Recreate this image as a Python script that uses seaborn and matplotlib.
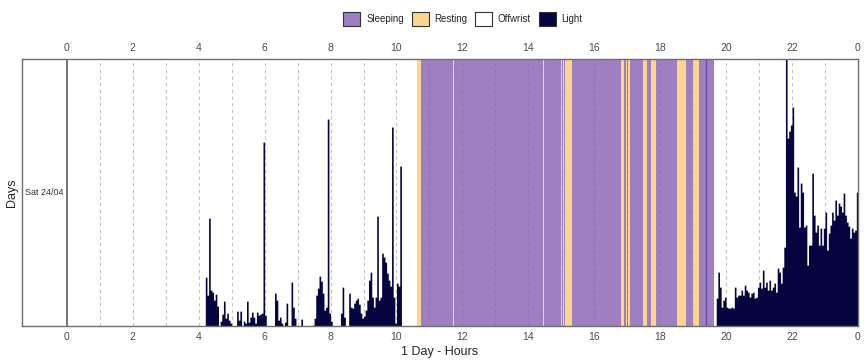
import numpy as np
import pandas as pd
import matplotlib
matplotlib.use("Agg")
import matplotlib.pyplot as plt
from matplotlib.patches import Patch
import seaborn as sns

# light epochs, 3 minutes each (0.05 h)
epoch_h = 0.05
morning_start = 4.20
morning_light = [
    49, 31, 108, 36, 34, 26, 32, 20, 0, 5, 12, 25, 8, 13, 6, 3,
    0, 0, 0, 15, 6, 15, 0, 5, 3, 25, 4, 9, 14, 9, 3, 14, 11, 12, 13, 184,
    11, 0, 0, 0, 0, 0, 33, 26, 6, 9, 3, 0, 4, 23, 0, 0, 44, 19, 8, 0,
    0, 0, 7, 0, 0, 0, 0, 0, 0, 1, 8, 31, 38, 50, 45, 33, 16, 19, 207, 13,
    5, 0, 0, 0, 0, 0, 13, 39, 9, 0, 0, 33, 19, 18, 23, 26, 28, 22, 13, 8,
    10, 16, 26, 46, 54, 29, 19, 29, 110, 26, 29, 73, 69, 64, 53, 46, 40, 199, 29, 3,
    43, 40, 160,
]
evening_start = 19.70
evening_light = [
    28, 54, 39, 19, 26, 29,
    19, 18, 18, 19, 18, 39, 29, 31, 31, 36, 31, 41, 36, 34, 29, 33, 34, 28, 29, 39,
    44, 38, 56, 39, 44, 36, 46, 36, 39, 43, 34, 58, 54, 43, 59, 79, 275, 188, 195, 201,
    219, 134, 130, 159, 99, 143, 134, 99, 101, 61, 81, 81, 153, 111, 94, 101, 81, 98, 81, 98,
    114, 76, 93, 101, 114, 106, 126, 111, 123, 120, 114, 133, 111, 104, 100, 88, 98, 94, 96, 134,
]

# sleep / rest periods (hours)
state_start = [10.63, 10.73, 11.71, 11.74, 14.45, 14.48, 14.98, 15.01, 15.05, 15.07,
               15.10, 15.31, 16.80, 16.90, 16.96, 16.98, 17.02, 17.07, 17.47, 17.59,
               17.72, 17.86, 18.50, 18.77, 19.00, 19.17]
state_end = state_start[1:] + [19.62]
state_kind = ["Resting", "Sleeping"] * 13
sleep_split = [19.40]

day_label = "Sat 24/04"
hour_ticks = list(range(0, 25, 2))
hour_labels = [str(h % 24) for h in hour_ticks]

colors = {"Sleeping": "#865fb2", "Resting": "#fccb72", "Offwrist": "#ffffff", "Light": "#06043f"}
legend_colors = {"Sleeping": "#9e7fc1", "Resting": "#fdd68e", "Offwrist": "#ffffff", "Light": "#06043f"}

light = pd.DataFrame({
    "hour": np.concatenate([
        morning_start + epoch_h * np.arange(len(morning_light)),
        evening_start + epoch_h * np.arange(len(evening_light)),
    ]) + epoch_h / 2,
    "light": morning_light + evening_light,
})

sns.set_theme(style="white")
plt.rcParams["font.family"] = ["Liberation Sans", "DejaVu Sans"]

fig, ax = plt.subplots(figsize=(8.64, 3.6), dpi=100)
fig.subplots_adjust(left=0.0255, right=0.993, top=0.836, bottom=0.094)

# hourly dashed grid
ax.set_xticks(hour_ticks, hour_labels)
ax.set_xticks(np.arange(1, 24), minor=True)
ax.xaxis.remove_overlapping_locs = False
ax.xaxis.grid(True, which="minor", color="#c4c4c4", lw=0.8, ls=(0, (3, 3)), zorder=0)
ax.set_axisbelow(True)
ax.axvline(0, color="#5e5e5e", lw=1.2, zorder=0.5)

for s, e, k in zip(state_start, state_end, state_kind):
    ax.axvspan(s, e, color=colors[k], alpha=0.8, lw=0, zorder=1)
for x in sleep_split:
    ax.axvline(x, color="#6a4a9e", lw=0.9, zorder=1.2)

bins = [round(b, 3) for b in np.arange(morning_start, 24 + epoch_h / 2, epoch_h)]
sns.histplot(data=light, x="hour", weights="light", bins=bins, element="step",
             fill=True, color=colors["Light"], alpha=1, linewidth=0, ax=ax, zorder=2)

ax.set_xlim(-1.36, 24)
ax.set_ylim(0, 267)
ax.set_yticks([])
ax.text(-0.68, 133.5, day_label, ha="center", va="center", fontsize=6.5, color="#333333")

ax.tick_params(axis="x", which="both", length=0, labelsize=7.5, labelcolor="#4d4d4d",
               top=True, labeltop=True, pad=4)
for sp in ax.spines.values():
    sp.set_color("#6e6e6e")
    sp.set_linewidth(1)

ax.set_xlabel("1 Day - Hours", fontsize=9, labelpad=3)
ax.set_ylabel("Days", fontsize=9, labelpad=3)

handles = [Patch(facecolor=legend_colors[k], edgecolor="#333333", lw=0.8, label=k)
           for k in ["Sleeping", "Resting", "Offwrist", "Light"]]
fig.legend(handles=handles, loc="center", bbox_to_anchor=(463 / 864, 1 - 19 / 360), ncol=4,
           frameon=False, fontsize=7, handlelength=1.75, handleheight=1.75,
           handletextpad=0.6, columnspacing=0.8)

fig.savefig("out.png", dpi=100)
